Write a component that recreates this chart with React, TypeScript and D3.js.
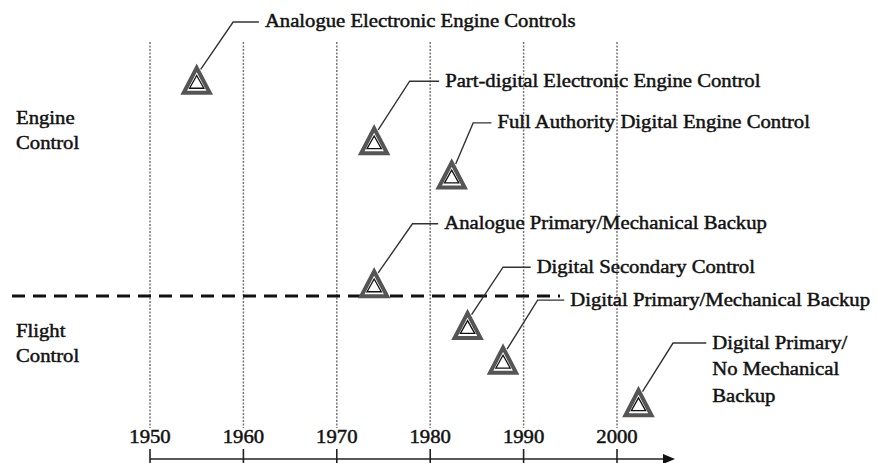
import React from 'react';
import * as d3 from 'd3';

// decades on the time axis
const decades = [1950, 1960, 1970, 1980, 1990, 2000];

// milestones: name, year of the triangle and its row (0 = axis, 100 = top of grid)
const milestones = [
  'Analogue Electronic Engine Controls',
  'Part-digital Electronic Engine Control',
  'Full Authority Digital Engine Control',
  'Analogue Primary/Mechanical Backup',
  'Digital Secondary Control',
  'Digital Primary/Mechanical Backup',
  'Digital Primary/|No Mechanical|Backup',
];
const years = [1955, 1974, 1982.3, 1974, 1984, 1987.8, 2002.3];
const levels = [90.8, 76.3, 68.1, 42.0, 32.0, 23.7, 13.5];

// where each leader bends and where its label begins
const elbowYears = [1958.9, 1977.8, 1984.6, 1978.1, 1987.8, 1991.5, 2006.0];
const elbowLevels = [104.8, 90.6, 80.6, 56.4, 46.0, 38.1, 27.8];
const textYears = [1962.3, 1981.6, 1987.2, 1981.5, 1991.4, 1995.0, 2010.2];

// the two domains and the border between them
const groups = ['Engine|Control', 'Flight|Control'];
const groupLevels = [80.3, 29.3];
const borderLevel = 39.1;

const W = 878;
const H = 463;
const FONT = '"Liberation Serif", "Times New Roman", serif';
const SX = 1.15; // the source picture is a little stretched sideways

const x = d3.scaleLinear().domain([1950, 2000]).range([150, 617]);
const y = d3.scaleLinear().domain([0, 100]).range([459, 42]);

const Label = ({ px, py, text, anchor = 'start', lineGap = 26.5 }) => (
  <text
    transform={`translate(${px},${py}) scale(${SX},1)`}
    fontFamily={FONT}
    fontSize={18}
    fill="#111"
    stroke="#111"
    strokeWidth={0.45}
    textAnchor={anchor}
  >
    {text.split('|').map((t, i) => (
      <tspan key={i} x={0} y={i * lineGap}>{t}</tspan>
    ))}
  </text>
);

const Triangle = ({ cx, cy }) => {
  const h = 12.5, b = 13;
  const outer = `M${cx},${cy - h}L${cx + b},${cy + h}L${cx - b},${cy + h}Z`;
  const k = 0.55;
  const inner = `M${cx},${cy - h * k + 2}L${cx + b * k},${cy + h * k + 1}L${cx - b * k},${cy + h * k + 1}Z`;
  return (
    <g>
      <path d={outer} fill="white" stroke="#555" strokeWidth={4} strokeLinejoin="miter" />
      <path d={inner} fill="white" stroke="#111" strokeWidth={1.3} />
    </g>
  );
};

export default function App() {
  const axisY = y(0);
  const arrowEnd = 675;
  return (
    <svg
      width={W}
      height={H}
      style={{ position: 'absolute', left: 0, top: 0, background: 'white' }}
    >
      {/* decade grid */}
      {decades.map((d) => (
        <line
          key={d}
          x1={x(d)}
          x2={x(d)}
          y1={y(100)}
          y2={428}
          stroke="#777"
          strokeWidth={1.5}
          strokeDasharray="2,1.5"
        />
      ))}

      {/* engine / flight border */}
      <line
        x1={12}
        x2={560}
        y1={y(borderLevel)}
        y2={y(borderLevel)}
        stroke="#111"
        strokeWidth={3}
        strokeDasharray="13,8"
      />

      {/* time axis */}
      <line x1={x(1950)} x2={arrowEnd - 4} y1={axisY} y2={axisY} stroke="#222" strokeWidth={1.6} />
      <path
        d={`M${arrowEnd},${axisY}L${arrowEnd - 12},${axisY - 5}L${arrowEnd - 12},${axisY + 5}Z`}
        fill="#111"
      />
      {decades.map((d) => (
        <g key={d}>
          <line x1={x(d)} x2={x(d)} y1={449} y2={H} stroke="#222" strokeWidth={1.6} />
          <Label px={x(d)} py={443} text={String(d)} anchor="middle" />
        </g>
      ))}

      {/* domain labels */}
      {groups.map((g, i) => (
        <Label key={g} px={16} py={y(groupLevels[i])} text={g} lineGap={25} />
      ))}

      {/* milestones */}
      {milestones.map((m, i) => {
        const cx = x(years[i]);
        const cy = y(levels[i]);
        const ex = x(elbowYears[i]);
        const ey = y(elbowLevels[i]);
        const tx = x(textYears[i]);
        return (
          <g key={m}>
            <polyline
              points={`${cx + 4},${cy - 11} ${ex},${ey} ${tx - 6},${ey}`}
              fill="none"
              stroke="#333"
              strokeWidth={1.4}
            />
            <Triangle cx={cx} cy={cy} />
            <Label px={tx} py={ey + 5.5} text={m} />
          </g>
        );
      })}
    </svg>
  );
}
